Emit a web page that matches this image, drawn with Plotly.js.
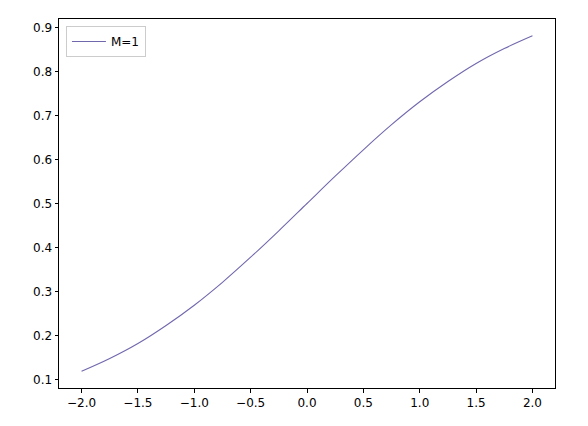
<!DOCTYPE html>
<html>
<head>
<meta charset="utf-8">
<script src="https://cdn.plot.ly/plotly-3.0.1.min.js"></script>
<style>html,body{margin:0;padding:0;background:#fff;}#chart{width:588px;height:426px;}</style>
</head>
<body>
<div id="chart"></div>
<script>
const xValues = [-2.0, -1.75, -1.5, -1.25, -1.0, -0.75, -0.5, -0.25, 0.0, 0.25, 0.5, 0.75, 1.0, 1.25, 1.5, 1.75, 2.0];
const yValues = [0.119, 0.148, 0.182, 0.223, 0.269, 0.321, 0.378, 0.438, 0.500, 0.562, 0.622, 0.679, 0.731, 0.777, 0.818, 0.852, 0.881];
const seriesName = 'M=1';
const xTicks = [-2.0, -1.5, -1.0, -0.5, 0.0, 0.5, 1.0, 1.5, 2.0];
const yTicks = [0.1, 0.2, 0.3, 0.4, 0.5, 0.6, 0.7, 0.8, 0.9];

const font = {family: 'DejaVu Sans', size: 12, color: '#000'};
const axisCommon = {
  showline: true, mirror: true, linecolor: '#000', linewidth: 1,
  ticks: 'outside', ticklen: 3.5, tickwidth: 1, tickcolor: '#000',
  showgrid: false, zeroline: false, tickfont: font, tickformat: '.1f'
};
Plotly.newPlot('chart', [{
  x: xValues, y: yValues, name: seriesName, type: 'scatter', mode: 'lines',
  line: {color: '#7068ad', width: 1.1, shape: 'spline'}, showlegend: true
}], {
  width: 588, height: 426,
  margin: {l: 59, r: 33, t: 19, b: 38},
  paper_bgcolor: '#fff', plot_bgcolor: '#fff',
  font: font,
  xaxis: Object.assign({}, axisCommon, {range: [-2.2, 2.2], tickvals: xTicks}),
  yaxis: Object.assign({}, axisCommon, {range: [0.0809, 0.9191], tickvals: yTicks}),
  showlegend: true,
  legend: {x: 0.014, y: 0.981, xanchor: 'left', yanchor: 'top', bgcolor: 'rgba(255,255,255,0.8)',
    bordercolor: '#cccccc', borderwidth: 1, itemwidth: 34, tracegroupgap: 0,
    font: {family: 'DejaVu Sans', size: 12, color: '#000'}}
}, {displayModeBar: false, staticPlot: true});
</script>
</body>
</html>
